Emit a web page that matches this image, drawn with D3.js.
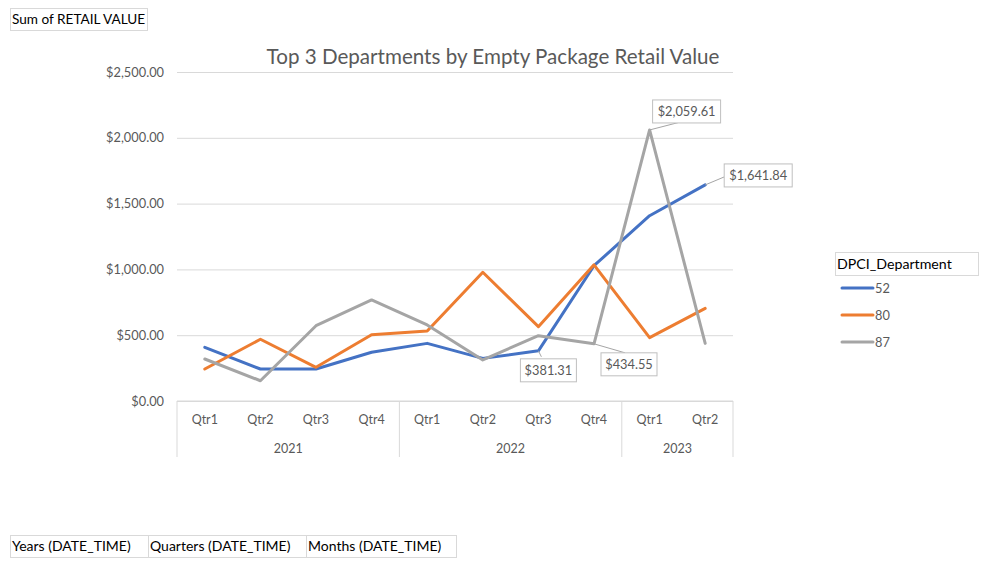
<!DOCTYPE html>
<html>
<head>
<meta charset="utf-8">
<script src="https://cdn.jsdelivr.net/npm/d3@7"></script>
<style>
  body { margin: 0; background: #fff; }
  svg { display: block; font-family: Lato, "Open Sans", sans-serif; }
</style>
</head>
<body>
<svg id="chart" width="988" height="565"></svg>
<script>
// DATA
const years = ["2021", "2022", "2023"];
const quarters = [
  ["Qtr1", "Qtr2", "Qtr3", "Qtr4"],
  ["Qtr1", "Qtr2", "Qtr3", "Qtr4"],
  ["Qtr1", "Qtr2"],
];
const seriesNames = ["52", "80", "87"];
const dept52 = [408, 243, 243, 370, 438, 324, 381.31, 1028, 1408, 1641.84];
const dept80 = [243, 469, 256, 504, 532, 978, 565, 1035, 481, 704];
const dept87 = [319, 154, 572, 768, 578, 312, 496, 434.55, 2059.61, 438];
const yTicks = [0, 500, 1000, 1500, 2000, 2500];
// which points carry a data label: [series index, category index]
const labelled = [[0, 6], [2, 7], [2, 8], [0, 9]];

const COLORS = ["#4472C4", "#ED7D31", "#A5A5A5"];
const GRID = "#d9d9d9";
const TEXT = "#595959";

const SVG = d3.select("#chart");

// categories
const cats = [];
years.forEach((y, yi) => quarters[yi].forEach((q) => cats.push({ year: y, q, key: y + "-" + q })));
const allSeries = [dept52, dept80, dept87];

// SCALES
const PLOT = { left: 177, right: 733, top: 72, bottom: 401 };
const X = d3.scaleBand().domain(cats.map((c) => c.key)).range([PLOT.left, PLOT.right]).padding(0);
const cx = (i) => X(cats[i].key) + X.bandwidth() / 2;
const Y = d3.scaleLinear().domain([0, 2500]).range([PLOT.bottom, PLOT.top]);
const fmt = d3.format("$,.2f");

// GRID + Y AXIS
const Y_AXIS = d3.axisLeft(Y).tickValues(yTicks).tickFormat(fmt).tickSize(-(PLOT.right - PLOT.left)).tickPadding(13);
const Y_AXIS_G = SVG.append("g").attr("transform", `translate(${PLOT.left},0)`).call(Y_AXIS);
Y_AXIS_G.select(".domain").remove();
Y_AXIS_G.selectAll("line").attr("stroke", GRID).attr("stroke-width", 1);
Y_AXIS_G.selectAll("text").attr("fill", TEXT).style("font-size", "12.8px").attr("font-family", "Lato, 'Open Sans', sans-serif");

// X AXIS (multi-level category box)
const xg = SVG.append("g");
xg.append("line").attr("x1", PLOT.left).attr("x2", PLOT.right).attr("y1", PLOT.bottom).attr("y2", PLOT.bottom).attr("stroke", GRID);
let start = 0;
const bounds = [PLOT.left];
years.forEach((y, yi) => {
  const n = quarters[yi].length;
  const x0 = X(cats[start].key);
  const x1 = X(cats[start + n - 1].key) + X.bandwidth();
  bounds.push(x1);
  xg.append("text").text(y).attr("x", (x0 + x1) / 2).attr("y", 453)
    .attr("text-anchor", "middle").attr("fill", TEXT).style("font-size", "12.5px");
  start += n;
});
bounds.forEach((b) => {
  xg.append("line").attr("x1", b).attr("x2", b).attr("y1", PLOT.bottom).attr("y2", 457).attr("stroke", GRID);
});
cats.forEach((c, i) => {
  xg.append("text").text(c.q).attr("x", cx(i)).attr("y", 424)
    .attr("text-anchor", "middle").attr("fill", TEXT).style("font-size", "12.5px");
});

// LINES
const line = d3.line().x((d, i) => cx(i)).y((d) => Y(d));
allSeries.forEach((s, si) => {
  SVG.append("path").datum(s).attr("d", line).attr("fill", "none")
    .attr("stroke", COLORS[si]).attr("stroke-width", 3).attr("stroke-linejoin", "round").attr("stroke-linecap", "round");
});

// DATA LABELS (callouts)
const labelOffsets = [
  { dx: -18, dy: 8, w: 56, h: 23, lx: 3, ly: 6 },
  { dx: 7, dy: 9, w: 56, h: 23, lx: 31, ly: 9 },
  { dx: 3, dy: -30, w: 68, h: 23, lx: 31, ly: -8 },
  { dx: 19, dy: -21, w: 68, h: 23, lx: 19, ly: -8 },
];
labelled.forEach(([si, ci], k) => {
  const v = allSeries[si][ci];
  const px = cx(ci), py = Y(v);
  const o = labelOffsets[k];
  const bx = px + o.dx, by = py + o.dy;
  const g = SVG.append("g");
  g.append("line").attr("x1", px).attr("y1", py).attr("x2", px + o.lx).attr("y2", py + o.ly)
    .attr("stroke", "#A5A5A5").attr("stroke-width", 1);
  g.append("rect").attr("x", bx).attr("y", by).attr("width", o.w).attr("height", o.h)
    .attr("fill", "#fff").attr("stroke", "#bfbfbf");
  g.append("text").text(fmt(v)).attr("x", bx + o.w / 2).attr("y", by + 16)
    .attr("text-anchor", "middle").attr("fill", TEXT).style("font-size", "12.8px");
});

// TITLE
SVG.append("text").text("Top 3 Departments by Empty Package Retail Value")
  .attr("x", 493).attr("y", 64).attr("text-anchor", "middle").attr("fill", TEXT).style("font-size", "20.6px");

// LEGEND
const lg = SVG.append("g");
lg.append("rect").attr("x", 835.5).attr("y", 252.5).attr("width", 143).attr("height", 23).attr("fill", "#fff").attr("stroke", "#d9d9d9");
lg.append("text").text("DPCI_Department").attr("x", 837).attr("y", 269).attr("fill", "#000").style("font-size", "14.2px");
seriesNames.forEach((n, i) => {
  const yy = 288 + i * 27;
  lg.append("line").attr("x1", 842).attr("x2", 873).attr("y1", yy).attr("y2", yy)
    .attr("stroke", COLORS[i]).attr("stroke-width", 3).attr("stroke-linecap", "round");
  lg.append("text").text(n).attr("x", 875).attr("y", yy + 5).attr("fill", TEXT).style("font-size", "12.8px");
});

// FIELD BUTTONS
function fieldBox(x, y, w, label, size) {
  SVG.append("rect").attr("x", x + 0.5).attr("y", y + 0.5).attr("width", w).attr("height", 22).attr("fill", "#fff").attr("stroke", "#d9d9d9");
  SVG.append("text").text(label).attr("x", x + 2).attr("y", y + 16).attr("fill", "#000").style("font-size", size);
}
fieldBox(10, 8, 137, "Sum of RETAIL VALUE", "13.6px");
fieldBox(10, 535, 138, "Years (DATE_TIME)", "14px");
fieldBox(148, 535, 158, "Quarters (DATE_TIME)", "14px");
fieldBox(306, 535, 150, "Months (DATE_TIME)", "14px");
</script>
</body>
</html>
